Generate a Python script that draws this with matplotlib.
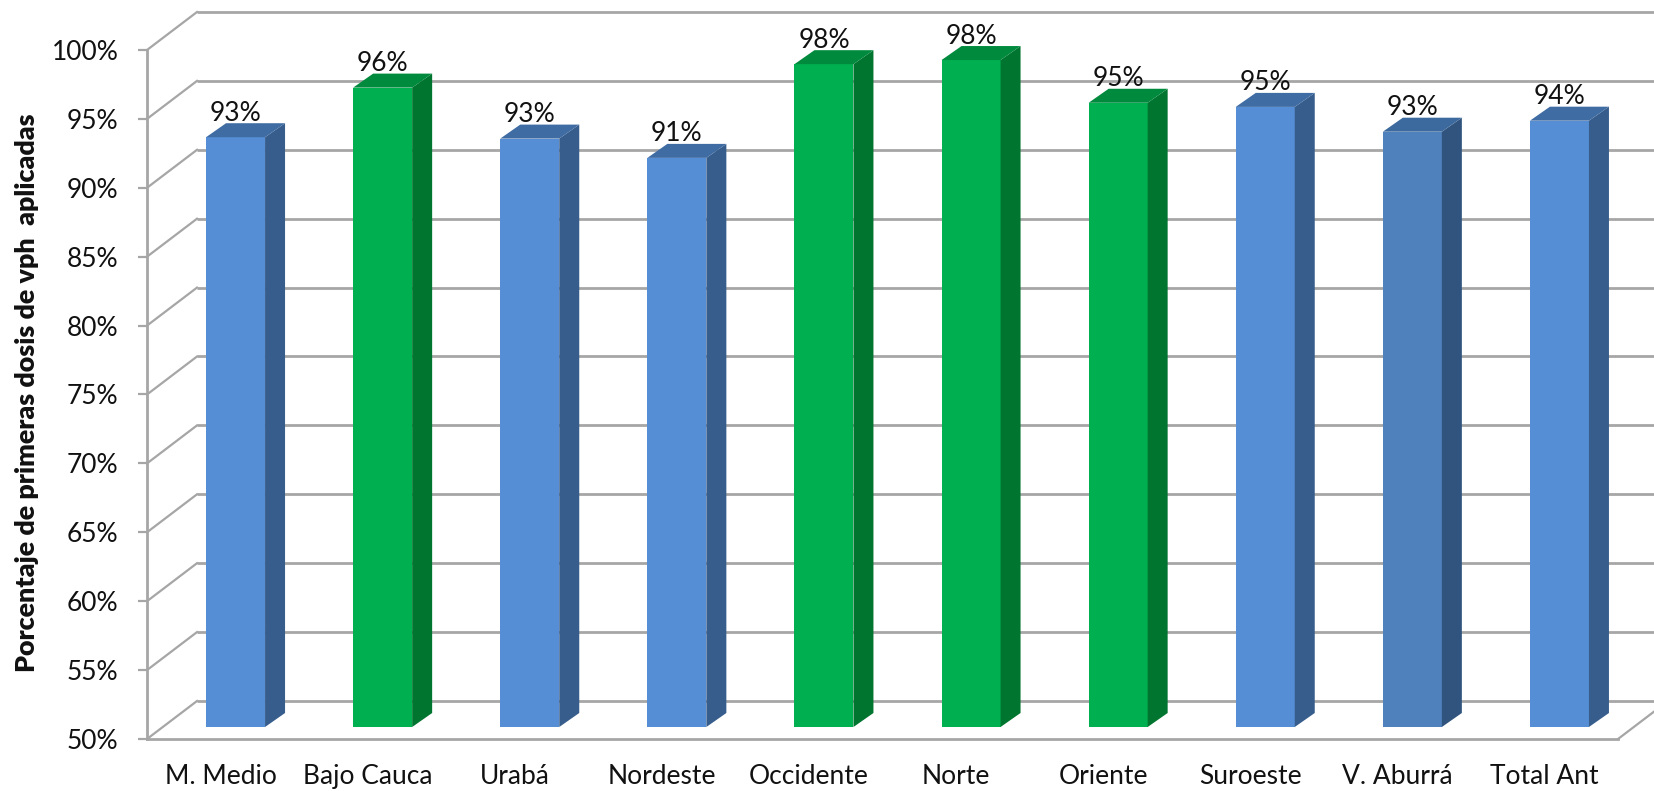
import matplotlib
matplotlib.use("Agg")
import matplotlib.pyplot as plt

plt.rcParams['font.family'] = ['Lato', 'DejaVu Sans']

categories = ['M. Medio', 'Bajo Cauca', 'Urabá', 'Nordeste', 'Occidente', 'Norte',
              'Oriente', 'Suroeste', 'V. Aburrá', 'Total Ant']
values = [92.8, 96.4, 92.7, 91.3, 98.1, 98.4, 95.3, 95.0, 93.2, 94.0]
labels = ['93%', '96%', '93%', '91%', '98%', '98%', '95%', '95%', '93%', '94%']
y_ticks = [50, 55, 60, 65, 70, 75, 80, 85, 90, 95, 100]

BLUE = ('#558ED5', '#375D8C', '#3F6CA3')
GREEN = ('#00B050', '#00752F', '#008A3E')
STEEL = ('#4F81BD', '#31547F', '#3D6A9E')
styles = [BLUE, GREEN, BLUE, BLUE, GREEN, GREEN, GREEN, BLUE, STEEL, BLUE]

W, H = 1654, 791
fig = plt.figure(figsize=(W / 100, H / 100), dpi=100, facecolor='white')
ax = fig.add_axes([147 / W, (H - 739) / H, 1471 / W, 689 / H])
ax.set_xlim(-0.5, 9.5)
ax.set_ylim(50, 100)

px_x = 10 / 1471      # data units per pixel, x
px_y = 50 / 689       # data units per pixel, y
wall_dx, wall_dy = 50 * px_x, 38 * px_y
bar_dx, bar_dy = 20 * px_x, 14 * px_y
lift = 12 * px_y      # bars stand on the floor, in front of the back wall
shift = 15 * px_x
bar_w = 59 * px_x
GRID = '#A6A6A6'

x0, x1 = ax.get_xlim()
for t in y_ticks:
    ax.plot([x0 + wall_dx, x1 + wall_dx], [t + wall_dy] * 2, color=GRID, lw=2.0,
            clip_on=False, zorder=1, solid_capstyle='butt')
    ax.plot([x0, x0 + wall_dx], [t, t + wall_dy], color=GRID, lw=1.6,
            clip_on=False, zorder=1)
ax.plot([x1, x1 + wall_dx], [50, 50 + wall_dy], color=GRID, lw=1.6, clip_on=False, zorder=1)

for i, (v, lab, st) in enumerate(zip(values, labels, styles)):
    c = i + shift
    l, r = c - bar_w / 2, c + bar_w / 2
    b = 50 + lift
    top = v + lift
    ax.bar(c, top - b, width=bar_w, bottom=b, color=st[0], linewidth=0, zorder=3)
    ax.fill([r, r + bar_dx, r + bar_dx, r],
            [b, b + bar_dy, top + bar_dy, top], color=st[1], lw=0, zorder=3, clip_on=False)
    ax.fill([l, l + bar_dx, r + bar_dx, r],
            [top, top + bar_dy, top + bar_dy, top], color=st[2], lw=0, zorder=3, clip_on=False)
    ax.text(c, top + 24 * px_y, lab, ha='center', va='center', fontsize=19, color='#111111',
            zorder=4, clip_on=False)

for s in ('top', 'right'):
    ax.spines[s].set_visible(False)
for s in ('left', 'bottom'):
    ax.spines[s].set_color(GRID)
    ax.spines[s].set_linewidth(2.0)

ax.set_yticks(y_ticks)
ax.set_yticklabels([f'{t}%' for t in y_ticks], fontsize=19, color='#111111')
ax.tick_params(axis='y', length=6.5, width=1.6, color=GRID, pad=14)
ax.set_xticks(range(len(categories)))
ax.set_xticklabels(categories, fontsize=19, color='#111111')
ax.tick_params(axis='x', length=0, pad=18)

fig.text(27 / W, 1 - 393 / H, 'Porcentaje de primeras dosis de vph  aplicadas', rotation=90,
         ha='center', va='center', fontsize=19.4, fontweight='heavy', color='#111111')

fig.savefig('out.png', dpi=100, facecolor='white')
